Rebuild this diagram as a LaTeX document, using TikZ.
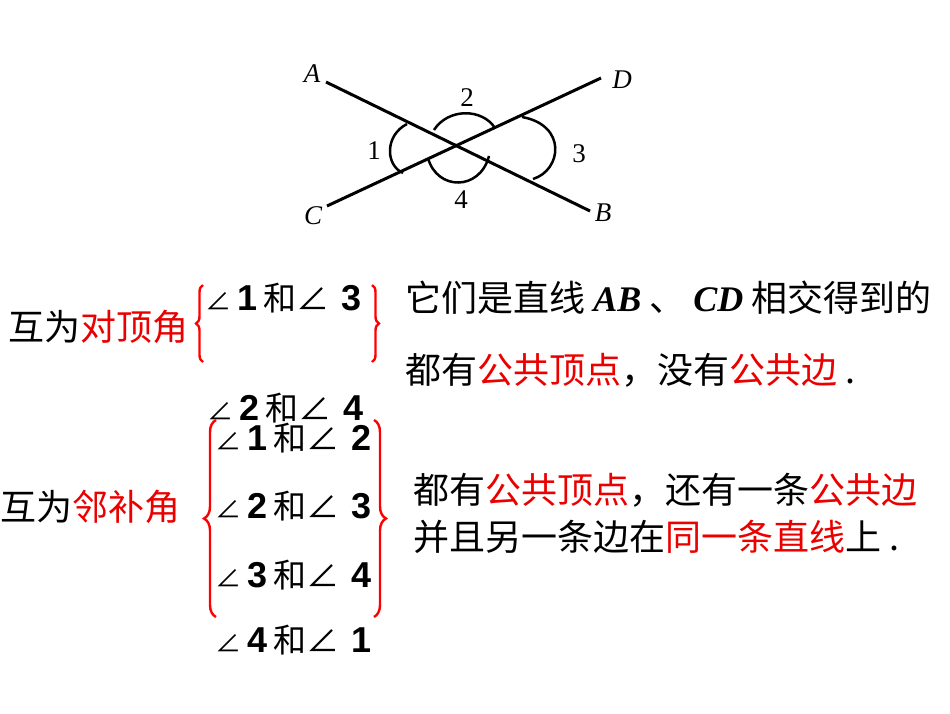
\documentclass[tikz,border=0pt]{standalone}
\usepackage{fontspec}
\setmainfont{Liberation Serif}
\newfontfamily\cjk{Noto Sans CJK SC}
\newfontfamily\arl{Liberation Sans}
\usetikzlibrary{decorations.pathreplacing}
\tikzset{
 ln/.style={line width=3pt},
 arcl/.style={line width=2.5pt},
 lab/.style={font=\fontsize{27}{29}\selectfont},
 cn/.style={font=\fontsize{36}{38}\selectfont\cjk, anchor=west, inner sep=0pt},
 ang/.style={font=\fontsize{36}{38}\selectfont, anchor=west, inner sep=0pt},
 br/.style={red, line width=2.4pt, decorate, decoration={brace, amplitude=7pt}},
}
\newcommand{\agl}[2]{{\cjk\fontsize{26}{28}\selectfont ∠}\,{\arl\bfseries #1}\,{\cjk\fontsize{33}{35}\selectfont 和∠}\,\,{\arl\bfseries #2}}
\definecolor{rd}{RGB}{235,0,0}
\begin{document}
\begin{tikzpicture}[x=1pt,y=-1pt]
\useasboundingbox (0,0) rectangle (950,713);
% lines
\coordinate (a) at (326,82); \coordinate (b) at (590,211);
\coordinate (c) at (327,206); \coordinate (d) at (601,78);
\draw[ln] (a) -- (b); \draw[ln] (c) -- (d);
\draw[arcl] (407,124) .. controls (385,135) and (385,165) .. (403,173);
\draw[arcl] (434,130) .. controls (448,108) and (482,108) .. (495,128);
\draw[arcl] (522,117) .. controls (567,125) and (562,170) .. (533,179);
\draw[arcl] (428,158) .. controls (437,191) and (480,191) .. (489,156);
\node[lab] (la) at (312,74) {\itshape A};
\node[lab] (ld) at (622,80) {\itshape D};
\node[lab] (lc) at (313,216) {\itshape C};
\node[lab] (lb) at (603,213) {\itshape B};
\node[lab] (l2) at (467,98) {2};
\node[lab] (l1) at (374,151) {1};
\node[lab] (l3) at (579,154) {3};
\node[lab] (l4) at (461,200) {4};
% left texts
\node[cn] (t1) at (8,327) {互为\textcolor{rd}{对顶角}};
\node[cn] (t2) at (0,507) {互为\textcolor{rd}{邻补角}};
\node[ang] (g13) at (205,298) {\agl{1}{3}};
\node[ang] (g24) at (207,408) {\agl{2}{4}};
\node[ang] (g12) at (215,438) {\agl{1}{2}};
\node[ang] (g23) at (215,506) {\agl{2}{3}};
\node[ang] (g34) at (215,575) {\agl{3}{4}};
\node[ang] (g41) at (215,640) {\agl{4}{1}};
\draw[br] (203,362) -- (203,285);
\draw[br] (372,285) -- (372,362);
\draw[br, decoration={amplitude=12pt}] (216,617) -- (216,420);
\draw[br, decoration={amplitude=12pt}] (374,420) -- (374,617);
% right texts
\node[cn] (r1) at (405,298) {它们是直线 {\rmfamily\bfseries\itshape AB} 、 {\rmfamily\bfseries\itshape CD} 相交得到的};
\node[cn] (r2) at (405,370) {都有\textcolor{rd}{公共顶点}，没有\textcolor{rd}{公共边} .};
\node[cn] (r3) at (413,490) {都有\textcolor{rd}{公共顶点}，还有一条\textcolor{rd}{公共边}};
\node[cn] (r4) at (413,537) {并且另一条边在\textcolor{rd}{同一条直线}上 .};
\end{tikzpicture}
\end{document}
